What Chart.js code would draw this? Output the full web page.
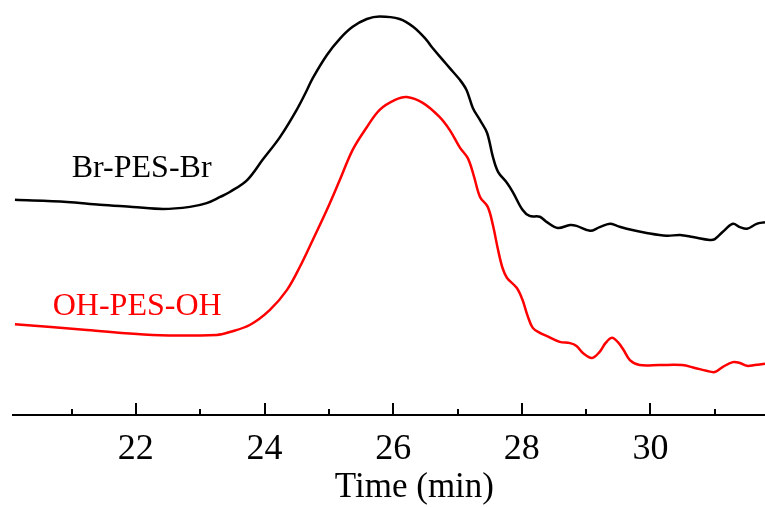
<!DOCTYPE html>
<html>
<head>
<meta charset="utf-8">
<script src="https://cdn.jsdelivr.net/npm/chart.js@4.4.1/dist/chart.umd.min.js"></script>
<style>
  html, body { margin: 0; padding: 0; background: #ffffff; }
  #wrap { width: 765px; height: 507px; }
</style>
</head>
<body>
<div id="wrap"><canvas id="c" width="765" height="507"></canvas></div>
<script>
// Elution time (min) and detector signal (arbitrary units)
const brTime = [20.12,20.93,21.44,21.95,22.42,22.84,23.10,23.31,23.46,23.73,23.97,24.24,24.50,24.66,24.75,24.97,25.17,25.37,25.59,25.79,26.10,26.31,26.52,26.60,26.77,26.88,27.04,27.14,27.24,27.35,27.46,27.55,27.63,27.77,27.86,28.01,28.12,28.28,28.39,28.56,28.75,28.85,29.06,29.21,29.37,29.48,29.63,29.94,30.25,30.46,30.66,30.92,31.00,31.12,31.28,31.39,31.50,31.65,31.78];
const brSignal = [51.6,51.1,50.4,49.9,49.4,49.9,50.8,52.3,53.5,56.4,61.3,66.8,73.4,78.2,81.1,86.7,90.6,93.5,95.4,96.0,95.4,93.5,90.3,88.6,85.5,83.5,80.6,78.2,73.8,70.9,67.8,62.0,58.4,55.7,53.5,49.2,47.7,47.5,46.2,44.8,45.5,45.3,44.1,45.0,45.8,45.3,44.6,43.6,42.9,43.1,42.6,41.9,42.1,43.8,45.8,45.0,44.6,45.8,46.2];

const ohTime = [20.12,21.24,22.26,23.26,23.46,23.77,24.08,24.35,24.55,24.75,24.97,25.17,25.37,25.59,25.79,26.03,26.21,26.46,26.72,26.88,27.04,27.16,27.25,27.35,27.47,27.55,27.63,27.70,27.77,27.92,28.01,28.09,28.17,28.28,28.39,28.59,28.75,28.85,28.95,29.09,29.21,29.30,29.40,29.49,29.58,29.68,29.83,30.14,30.49,30.69,30.87,31.00,31.12,31.28,31.39,31.50,31.62,31.78];
const ohSignal = [21.5,20.1,18.9,18.9,19.6,21.3,24.9,29.8,35.4,41.9,49.2,56.4,63.7,69.2,73.4,75.8,76.5,75.1,71.7,68.5,64.2,61.7,57.6,52.3,49.9,45.5,39.5,35.1,32.7,30.3,27.4,23.5,20.6,19.4,18.6,17.2,16.9,16.2,14.5,13.3,14.8,16.9,18.2,17.2,15.3,12.8,11.6,11.6,11.6,10.9,10.2,9.9,11.1,12.3,12.1,11.4,11.6,11.9];

const seriesNames = ['Br-PES-Br', 'OH-PES-OH'];
const tickLabels = [22, 24, 26, 28, 30];
const minorTicks = [21, 23, 25, 27, 29, 31];
const xTitle = 'Time (min)';

const toPts = (t, v) => t.map((x, i) => ({ x: x, y: v[i] }));

const overlay = {
  id: 'overlay',
  afterDraw(chart, args, opts) {
    const ctx = chart.ctx;
    const xs = chart.scales.x, ys = chart.scales.y;
    const y0 = xs.top;
    ctx.save();
    ctx.strokeStyle = '#000';
    ctx.lineWidth = 2;
    const all = tickLabels.map(v => [v, 12]).concat(minorTicks.map(v => [v, 6]));
    all.forEach(([v, len]) => {
      const px = Math.round(xs.getPixelForValue(v));
      ctx.beginPath();
      ctx.moveTo(px, y0);
      ctx.lineTo(px, y0 - len);
      ctx.stroke();
    });
    ctx.textAlign = 'center';
    ctx.textBaseline = 'alphabetic';
    ctx.font = '32px "Liberation Serif"';
    opts.labels.forEach((l, i) => {
      ctx.fillStyle = l.color;
      ctx.fillText(seriesNames[i], xs.getPixelForValue(l.t), ys.getPixelForValue(l.v));
    });
    // axis title (the original axis runs past the right edge, so its title sits right of centre)
    ctx.fillStyle = '#000';
    ctx.font = '35px "Liberation Serif"';
    ctx.fillText(xTitle, xs.getPixelForValue(opts.titleAt), xs.top + opts.titleBaseline);
    ctx.restore();
  }
};

Chart.defaults.font.family = '"Liberation Serif", "Times New Roman", serif';
Chart.defaults.color = '#000';

new Chart(document.getElementById('c'), {
  type: 'line',
  data: {
    datasets: [
      { label: seriesNames[0], data: toPts(brTime, brSignal), borderColor: '#000000', borderWidth: 2.5, pointRadius: 0, tension: 0.35, fill: false },
      { label: seriesNames[1], data: toPts(ohTime, ohSignal), borderColor: '#ff0000', borderWidth: 2.5, pointRadius: 0, tension: 0.35, fill: false }
    ]
  },
  options: {
    responsive: false,
    animation: false,
    devicePixelRatio: 1,
    layout: { padding: { left: 13, right: 0, top: 0, bottom: 0 } },
    plugins: {
      legend: { display: false },
      tooltip: { enabled: false },
      overlay: {
        labels: [
          { t: 22.09, v: 57.1, color: '#000000' },
          { t: 22.02, v: 23.7, color: '#ff0000' }
        ],
        titleAt: 26.33,
        titleBaseline: 82
      }
    },
    scales: {
      x: {
        type: 'linear',
        min: 20.09,
        max: 31.78,
        afterBuildTicks: (s) => { s.ticks = tickLabels.map(v => ({ value: v })); },
        afterFit: (s) => { s.height = 92; },
        ticks: { font: { size: 36 }, color: '#000', padding: 5, maxRotation: 0, autoSkip: false, callback: (v) => String(v) },
        grid: { display: false },
        border: { display: true, color: '#000', width: 2 },
        title: { display: false }
      },
      y: { display: false, min: -0.5, max: 100 }
    }
  },
  plugins: [overlay]
});
</script>
</body>
</html>
